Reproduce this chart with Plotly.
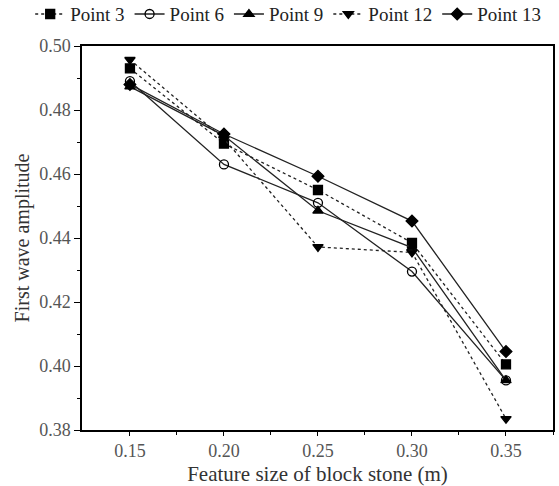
import plotly.graph_objects as go

x_vals = [0.15, 0.20, 0.25, 0.30, 0.35]
point3 = [0.493, 0.4695, 0.455, 0.4385, 0.4005]
point6 = [0.489, 0.463, 0.451, 0.4295, 0.3955]
point9 = [0.4873, 0.472, 0.4485, 0.437, 0.3955]
point12 = [0.4957, 0.471, 0.4372, 0.4355, 0.3835]
point13 = [0.488, 0.4725, 0.4593, 0.4453, 0.4045]

series = [
    ("Point 3", point3, "dot", "square"),
    ("Point 6", point6, "solid", "circle-open"),
    ("Point 9", point9, "solid", "triangle-up"),
    ("Point 12", point12, "dot", "triangle-down"),
    ("Point 13", point13, "solid", "diamond"),
]

fig = go.Figure()
for name, vals, dash, sym in series:
    fig.add_trace(go.Scatter(
        x=x_vals, y=vals, name=name, mode="lines+markers",
        line=dict(color="#222222", width=1.3, dash=dash),
        marker=dict(symbol=sym, size=9, color="black",
                    line=dict(color="black", width=1.3)),
    ))

font_family = "Liberation Serif, Times New Roman, serif"
fig.update_layout(
    width=559, height=486,
    margin=dict(l=82, r=6, t=46, b=56, autoexpand=False),
    paper_bgcolor="white", plot_bgcolor="white",
    font=dict(family=font_family, color="#333333"),
    legend=dict(orientation="h", x=-0.11, xanchor="left", y=1.083, yanchor="middle",
                font=dict(family=font_family, size=19, color="#222222"), itemwidth=30,
                tracegroupgap=0, bgcolor="rgba(0,0,0,0)"),
    showlegend=True,
)
fig.update_xaxes(
    range=[0.1245, 0.375], tickvals=[0.15, 0.20, 0.25, 0.30, 0.35],
    ticktext=["0.15", "0.20", "0.25", "0.30", "0.35"],
    ticks="outside", ticklen=4, tickwidth=1.2, tickcolor="black",
    minor=dict(ticks="outside", ticklen=3, tickvals=[0.175, 0.225, 0.275, 0.325, 0.375], tickcolor="black"),
    showline=True, linecolor="black", linewidth=1.5, mirror=True,
    showgrid=False, zeroline=False,
    tickfont=dict(family=font_family, size=18, color="#555555"),
    title=dict(text="Feature size of block stone (m)", font=dict(family=font_family, size=21, color="#333333"), standoff=13),
)
fig.update_yaxes(
    range=[0.38, 0.50], tickvals=[0.38, 0.40, 0.42, 0.44, 0.46, 0.48, 0.50],
    ticktext=["0.38", "0.40", "0.42", "0.44", "0.46", "0.48", "0.50"],
    ticks="outside", ticklen=6, tickwidth=1.2, tickcolor="black",
    minor=dict(ticks="outside", ticklen=3, tickvals=[0.39, 0.41, 0.43, 0.45, 0.47, 0.49], tickcolor="black"),
    showline=True, linecolor="black", linewidth=1.5, mirror=True,
    showgrid=False, zeroline=False,
    tickfont=dict(family=font_family, size=18, color="#555555"),
    title=dict(text="First wave amplitude", font=dict(family=font_family, size=20, color="#333333"), standoff=4),
)

fig.write_html("out.html")
